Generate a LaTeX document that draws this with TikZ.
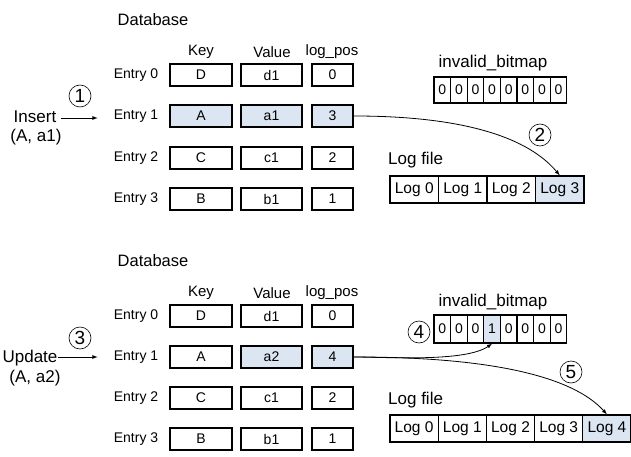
\documentclass[tikz,border=0pt]{standalone}
\usepackage{fontspec}
\setmainfont{Liberation Sans}
\usetikzlibrary{arrows,positioning}
\definecolor{hilite}{RGB}{220,230,242}

\begin{document}
\begin{tikzpicture}[x=1pt,y=-1pt]
      \tikzset{big text/.style={inner sep=0pt,font=\fontsize{16.5}{18}\selectfont},
          side text/.style={inner sep=0pt,font=\fontsize{17}{19}\selectfont},
          head text/.style={inner sep=0pt,font=\fontsize{15}{17}\selectfont},
          entry text/.style={inner sep=0pt,font=\fontsize{14}{16}\selectfont},
          cell/.style={draw,line width=1.7pt,minimum height=22pt,inner sep=0pt,
            font=\fontsize{14}{16}\selectfont},
          key cell/.style={cell,minimum width=62pt},
          value cell/.style={cell,minimum width=61pt},
          pos cell/.style={cell,minimum width=41pt},
          bit cell/.style={draw,line width=1.3pt,minimum width=16.6pt,minimum height=26pt,
            inner sep=0pt,font=\fontsize{14}{16}\selectfont},
          log cell/.style={draw,line width=1.3pt,minimum width=48.5pt,minimum height=27pt,
            inner sep=0pt,font=\fontsize{15.5}{17}\selectfont},
          stepno/.style={draw,circle,line width=0.6pt,minimum size=22pt,inner sep=0pt,
            font=\fontsize{19}{20}\selectfont},
          link/.style={line width=0.8pt,-latex}
      }
      \useasboundingbox (0,0) rectangle (631,457);

      % ---- insert ----
      \node [big text] (db1) at (153,20) {Database};
      \node [head text] (hk1) at (201,52) {Key};
      \node [head text] (hv1) at (272,52) {Value};
      \node [head text] (hp1) at (332,52) {log\_pos};

      \node [entry text] (e10) at (136,75) {Entry 0};
      \node [entry text] (e11) at (136,116) {Entry 1};
      \node [entry text] (e12) at (136,158) {Entry 2};
      \node [entry text] (e13) at (136,199) {Entry 3};

      \node [key cell] (k10) at (201,75) {D};
      \node [key cell,fill=hilite] (k11) at (201,116) {A};
      \node [key cell] (k12) at (201,158) {C};
      \node [key cell] (k13) at (201,199) {B};
      \node [value cell] (v10) at (271.5,75) {d1};
      \node [value cell,fill=hilite] (v11) at (271.5,116) {a1};
      \node [value cell] (v12) at (271.5,158) {c1};
      \node [value cell] (v13) at (271.5,199) {b1};
      \node [pos cell] (p10) at (332.5,75) {0};
      \node [pos cell,fill=hilite] (p11) at (332.5,116) {3};
      \node [pos cell] (p12) at (332.5,158) {2};
      \node [pos cell] (p13) at (332.5,199) {1};

      \node [side text] (ins) at (35,117) {Insert};
      \node [side text] (ins arg) at (36,137) {(A, a1)};
      \coordinate (ins end) at (61,118);
      \draw [link,shorten >=16pt] (ins end) -- (e11.west |- ins end);
      \node [stepno] (s1) at (80,96) {1};

      \node [side text] (bm1) at (493,63) {invalid\_bitmap};
      \foreach \i in {0,...,7}
        \node [bit cell] (ba\i) at ({442.3+16.6*\i},90) {0};

      \node [side text,anchor=west] (lf1) at (388,160) {Log file};
      \foreach \i in {0,1,2}
        \node [log cell] (la\i) at ({414.25+48.5*\i},189.5) {Log \i};
      \node [log cell,fill=hilite] (la3) at (559.75,189.5) {Log 3};

      \draw [link] (p11.east) to [out=0,in=130,looseness=0.8] (la3.north);
      \node [stepno] (s2) at (540,135) {2};

      % ---- update ----
      \node [big text] (db2) at (153,261) {Database};
      \node [head text] (hk2) at (201,293) {Key};
      \node [head text] (hv2) at (272,293) {Value};
      \node [head text] (hp2) at (332,293) {log\_pos};

      \node [entry text] (e20) at (136,316) {Entry 0};
      \node [entry text] (e21) at (136,357) {Entry 1};
      \node [entry text] (e22) at (136,398) {Entry 2};
      \node [entry text] (e23) at (136,439) {Entry 3};

      \node [key cell] (k20) at (201,316) {D};
      \node [key cell] (k21) at (201,357) {A};
      \node [key cell] (k22) at (201,398) {C};
      \node [key cell] (k23) at (201,439) {B};
      \node [value cell] (v20) at (271.5,316) {d1};
      \node [value cell,fill=hilite] (v21) at (271.5,357) {a2};
      \node [value cell] (v22) at (271.5,398) {c1};
      \node [value cell] (v23) at (271.5,439) {b1};
      \node [pos cell] (p20) at (332.5,316) {0};
      \node [pos cell,fill=hilite] (p21) at (332.5,357) {4};
      \node [pos cell] (p22) at (332.5,398) {2};
      \node [pos cell] (p23) at (332.5,439) {1};

      \node [side text] (upd) at (30,358) {Update};
      \node [side text] (upd arg) at (35,378) {(A, a2)};
      \coordinate (upd end) at (58,357);
      \draw [link,shorten >=16pt] (upd end) -- (e21.west |- upd end);
      \node [stepno] (s3) at (80,338) {3};

      \node [side text] (bm2) at (493,302) {invalid\_bitmap};
      \foreach \i/\b in {0/0,1/0,2/0,4/0,5/0,6/0,7/0}
        \node [bit cell,minimum height=28pt] (bb\i) at ({442.3+16.6*\i},329) {\b};
      \node [bit cell,minimum height=28pt,fill=hilite] (bb3) at (492.1,329) {1};
      \node [stepno] (s4) at (419,332) {4};

      \node [side text,anchor=west] (lf2) at (388,400) {Log file};
      \foreach \i in {0,...,3}
        \node [log cell,minimum width=48.2pt] (lb\i) at ({414.1+48.2*\i},428.5) {Log \i};
      \node [log cell,minimum width=48.2pt,fill=hilite] (lb4) at (606.9,428.5) {Log 4};

      \draw [link] (p21.east) to [out=0,in=-145,looseness=0.6] (bb3.south);
      \draw [link] (p21.east) to [out=0,in=132,looseness=0.7] (lb4.north);
      \node [stepno] (s5) at (571,372) {5};
\end{tikzpicture}
\end{document}
